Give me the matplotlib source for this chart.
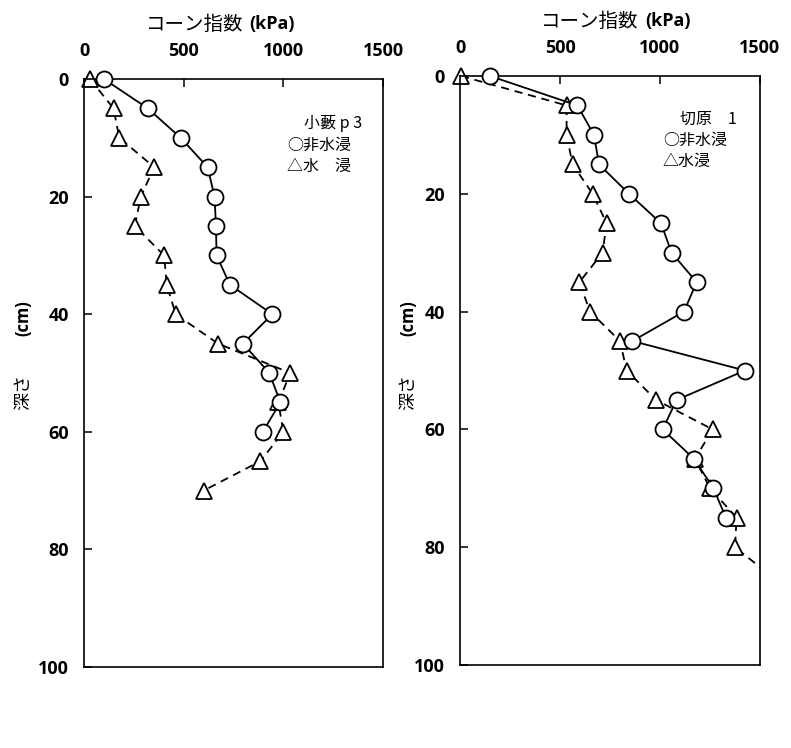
import matplotlib
matplotlib.use("Agg")
import matplotlib.pyplot as plt

W, H = 791, 748

# 小藪 p3
left_depth_dry = [0, 5, 10, 15, 20, 25, 30, 35, 40, 45, 50, 55, 60]
left_dry = [100, 320, 485, 620, 655, 662, 665, 732, 945, 797, 930, 985, 897]
left_depth_wet = [0, 5, 10, 15, 20, 25, 30, 35, 40, 45, 50, 55, 60, 65, 70]
left_wet = [30, 148, 177, 352, 285, 255, 402, 415, 460, 672, 1035, 975, 1000, 885, 600]

# 切原 1
right_depth_dry = [0, 5, 10, 15, 20, 25, 30, 35, 40, 45, 50, 55, 60, 65, 70, 75]
right_dry = [150, 587, 670, 695, 845, 1005, 1058, 1183, 1120, 862, 1425, 1083, 1013, 1170, 1267, 1330]
right_depth_wet = [0, 5, 10, 15, 20, 25, 30, 35, 40, 45, 50, 55, 60, 65, 70, 75, 80, 85]
right_wet = [5, 533, 533, 563, 663, 733, 713, 597, 650, 800, 833, 980, 1263, 1175, 1250, 1383, 1375, 1560]

x_ticks = [0, 500, 1000, 1500]
y_ticks = [0, 20, 40, 60, 80, 100]

JP = "Noto Sans CJK JP"
NUM = "Open Sans"


def fx(px):
    return px / W


def fy(py):
    return 1 - py / H


def draw_series(ax, x, d, marker, ls, z):
    kw = dict(color="black", lw=1.3, zorder=z)
    if ls == "--":
        kw["dashes"] = (4.5, 3.2)
    ax.plot(x, d, ls=ls, **kw)
    mask = [v <= 1500 for v in x]
    ax.plot(x, d, ls="none", marker=marker, ms=11.5 if marker == "o" else 12,
            mfc="white", mec="black", mew=1.3, markevery=mask,
            clip_on=False, zorder=z + 0.5)


def make_panel(box, dry_x, dry_d, wet_x, wet_d, legend, legend_xy):
    l, t, r, b = box
    ax = fig.add_axes([fx(l), fy(b), fx(r) - fx(l), fy(t) - fy(b)])
    draw_series(ax, wet_x, wet_d, "^", "--", 2)
    draw_series(ax, dry_x, dry_d, "o", "-", 3)
    ax.set_xlim(0, 1500)
    ax.set_ylim(100, 0)
    ax.set_xticks(x_ticks)
    ax.set_yticks(y_ticks)
    ax.xaxis.tick_top()
    ax.tick_params(axis="both", direction="in", length=6, width=1.1,
                   labelsize=13)
    ax.tick_params(axis="x", pad=14)
    ax.tick_params(axis="y", pad=11)
    for lab in ax.get_xticklabels() + ax.get_yticklabels():
        lab.set_family(NUM)
        lab.set_fontweight("bold")
    for s in ax.spines.values():
        s.set_linewidth(1.2)
    lx, ly = legend_xy
    for i, line in enumerate(legend):
        xoff = 17 if i == 0 else 0
        fig.text(fx(lx + xoff), fy(ly + i * 21), line, family=[JP, "DejaVu Sans"],
                 fontsize=11.5, va="center", ha="left")
    return ax


fig = plt.figure(figsize=(W / 100, H / 100), dpi=100)

make_panel((84, 79, 383, 667), left_dry, left_depth_dry, left_wet, left_depth_wet,
           ["小藪 p 3", "○非水浸", "△水　浸"], (287, 124))
make_panel((460, 76, 760, 665), right_dry, right_depth_dry, right_wet, right_depth_wet,
           ["切原　1", "○非水浸", "△水浸"], (663, 119))

# axis titles
for jx, kx, ty in [(195, 272, 24), (590, 668, 21)]:
    fig.text(fx(jx), fy(ty), "コーン指数", family=JP, fontsize=14,
             ha="center", va="center")
    fig.text(fx(kx), fy(ty), "(kPa)", family=NUM, fontweight="bold",
             fontsize=13, ha="center", va="center")

for xx in (23, 408):
    fig.text(fx(xx), fy(392), "深さ", family=JP, fontsize=13, rotation=90,
             ha="center", va="center")
    fig.text(fx(xx), fy(318), "(cm)", family=NUM, fontweight="bold",
             fontsize=12, rotation=90, ha="center", va="center")

fig.savefig("out.png", dpi=100)
